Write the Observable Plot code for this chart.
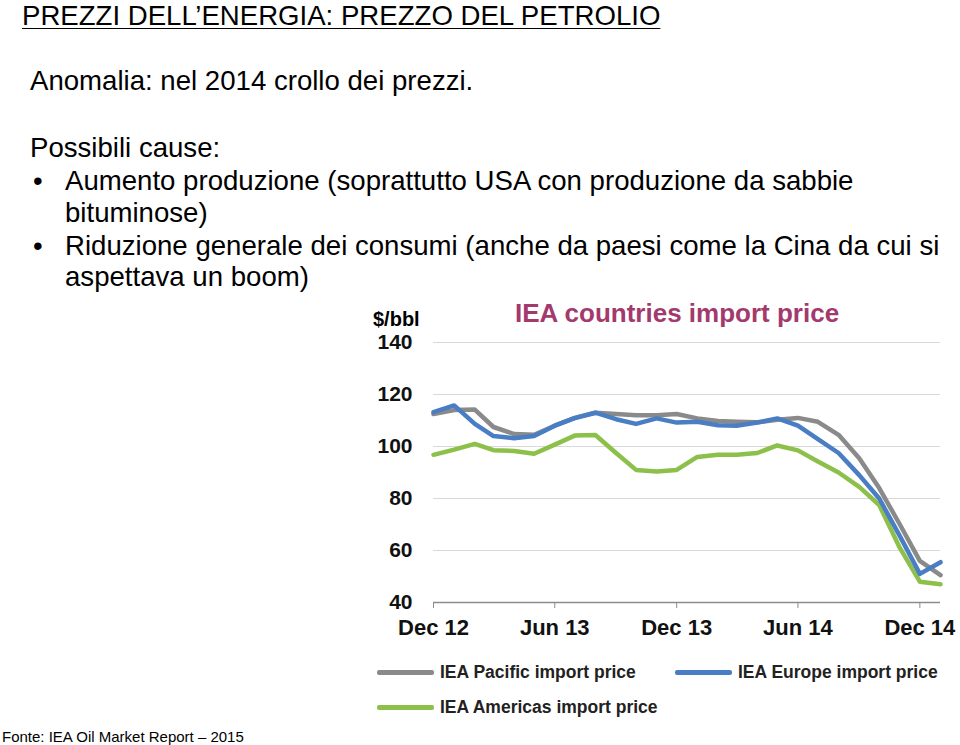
<!DOCTYPE html>
<html>
<head>
<meta charset="utf-8">
<script src="https://cdn.jsdelivr.net/npm/d3@7"></script>
<script src="https://cdn.jsdelivr.net/npm/@observablehq/plot@0.6"></script>
<style>
  html, body { margin: 0; padding: 0; background: #fff; }
  body { width: 960px; height: 745px; position: relative; overflow: hidden; font-family: "Liberation Sans", Arial, sans-serif; color: #000; }
  .t { position: absolute; white-space: nowrap; line-height: 1.15; }
  .body { font-size: 27.6px; }
  .bold { font-weight: bold; }
  .sw { position: absolute; height: 5px; border-radius: 2px; }
  #chart { position: absolute; left: 340px; top: 330px; }
</style>
</head>
<body>
<div class="t" style="left:22px; top:0px; font-size:27.6px; text-decoration:underline; text-decoration-thickness:1px; text-underline-offset:3px;">PREZZI DELL’ENERGIA: PREZZO DEL PETROLIO</div>
<div class="t body" style="left:30px; top:65px;">Anomalia: nel 2014 crollo dei prezzi.</div>
<div class="t body" style="left:30px; top:132px;">Possibili cause:</div>
<div class="t body" style="left:33px; top:165px;">•</div>
<div class="t body" style="left:65px; top:165px;">Aumento produzione (soprattutto USA con produzione da sabbie</div>
<div class="t body" style="left:65px; top:197px;">bituminose)</div>
<div class="t body" style="left:33px; top:230px;">•</div>
<div class="t body" style="left:65px; top:230px;">Riduzione generale dei consumi (anche da paesi come la Cina da cui si</div>
<div class="t body" style="left:65px; top:261px;">aspettava un boom)</div>

<div class="t bold" style="left:373px; top:308px; font-size:20px;">$/bbl</div>
<div class="t bold" id="ctitle" style="left:515px; top:299px; font-size:26px; color:#a33a6d;"></div>

<div id="chart"></div>

<div id="legend"></div>

<div class="t" style="left:2px; top:728px; font-size:15px;">Fonte: IEA Oil Market Report – 2015</div>

<script>
// ---- Data ----
const chartTitle = "IEA countries import price";
const months = ["2012-12","2013-01","2013-02","2013-03","2013-04","2013-05","2013-06","2013-07","2013-08","2013-09","2013-10","2013-11","2013-12",
                "2014-01","2014-02","2014-03","2014-04","2014-05","2014-06","2014-07","2014-08","2014-09","2014-10","2014-11","2014-12","2015-01"];
const pacific  = [112.5,114.0,114.2,107.5,104.8,104.5,108.0,111.0,113.0,112.5,112.0,112.0,112.5,110.8,109.8,109.5,109.3,110.3,111.0,109.5,104.5,95.5,84.0,70.0,56.0,50.5];
const europe   = [113.2,115.8,108.7,104.0,103.2,104.0,108.0,110.9,113.0,110.5,108.7,110.8,109.2,109.5,108.2,108.0,109.2,110.8,108.0,102.8,97.5,89.0,80.0,65.5,51.0,55.5];
const americas = [96.8,98.8,101.0,98.6,98.3,97.2,100.7,104.2,104.4,97.5,91.0,90.4,91.0,96.0,96.8,96.8,97.5,100.4,98.5,94.2,90.0,84.5,77.5,61.0,48.0,47.0];
const seriesNames = ["IEA Pacific import price","IEA Europe import price","IEA Americas import price"];
const seriesColors = ["#8a8a8a","#4a7ec4","#8dc04a"];
const xTickMonths = ["2012-12","2013-06","2013-12","2014-06","2014-12"];
const xTickLabels = ["Dec 12","Jun 13","Dec 13","Jun 14","Dec 14"];
const yTicks = [40,60,80,100,120,140];
const yGrid = [60,80,100,120,140];

// ---- Build ----
const parse = s => { const [y,m] = s.split("-").map(Number); return new Date(Date.UTC(y, m-1, 1)); };
const allVals = [pacific, europe, americas];
const seriesOrder = [0, 2, 1]; // draw gray, green, blue
const rows = [];
seriesOrder.forEach(si => {
  months.forEach((m, i) => rows.push({date: parse(m), value: allVals[si][i], series: seriesNames[si]}));
});
const tickDates = xTickMonths.map(parse);
const labelOf = new Map(tickDates.map((d, i) => [+d, xTickLabels[i]]));

document.getElementById("ctitle").textContent = chartTitle;

const plot = Plot.plot({
  width: 620,
  height: 320,
  marginLeft: 93,
  marginRight: 20,
  marginTop: 12,
  marginBottom: 48,
  style: {fontFamily: "Liberation Sans, Arial, sans-serif", background: "transparent", overflow: "visible"},
  x: {type: "utc", domain: [parse(months[0]), parse(months[months.length-1])]},
  y: {domain: [40, 140]},
  color: {domain: seriesNames, range: seriesColors},
  marks: [
    Plot.gridY(yGrid, {stroke: "#d9d9d9", strokeOpacity: 1, strokeWidth: 1.2}),
    Plot.ruleY([40], {stroke: "#8c8c8c", strokeWidth: 1.5}),
    Plot.axisY({ticks: yTicks, tickSize: 0, tickPadding: 21, fontSize: 21, fontWeight: "bold", label: null, fill: "#111"}),
    Plot.axisX({ticks: tickDates, tickSize: 6, tickPadding: 11, fontSize: 22, fontWeight: "bold", label: null, stroke: "#8c8c8c", fill: "#111",
                tickFormat: d => labelOf.get(+d) ?? ""}),
    ...seriesOrder.map(si => Plot.line(rows.filter(r => r.series === seriesNames[si]), {
      x: "date", y: "value", stroke: "series", strokeWidth: 4.5, strokeLinejoin: "round", strokeLinecap: "round"
    }))
  ]
});
document.getElementById("chart").appendChild(plot);

// ---- Legend ----
const legend = document.getElementById("legend");
const legendPos = [[377, 672], [675, 672], [377, 707]];
seriesNames.forEach((name, i) => {
  const [x, y] = legendPos[i];
  const sw = document.createElement("div");
  sw.className = "sw";
  sw.style.cssText = `left:${x}px; top:${y-2.5}px; width:57px; background:${seriesColors[i]};`;
  legend.appendChild(sw);
  const t = document.createElement("div");
  t.className = "t bold";
  t.style.cssText = `left:${x+63}px; top:${y-10.5}px; font-size:17.5px; color:#222;`;
  t.textContent = name;
  legend.appendChild(t);
});
</script>
</body>
</html>
